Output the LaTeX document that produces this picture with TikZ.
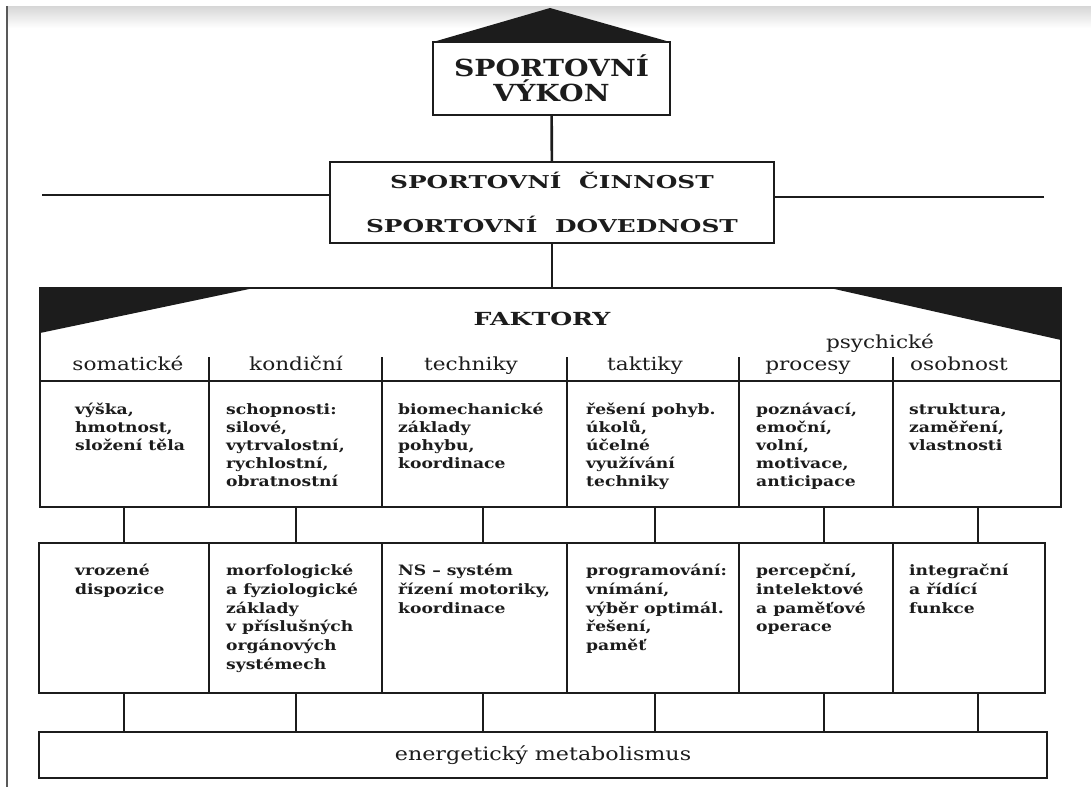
\documentclass[tikz,border=0pt]{standalone}
\usepackage{fontspec}
\setmainfont{DejaVu Serif}[FakeStretch=1.2]
\newfontfamily\capsfont{DejaVu Serif}[FakeStretch=1.4]
\usetikzlibrary{positioning}
\definecolor{ink}{HTML}{1C1C1C}
\tikzstyle{frame}=[draw=ink, line width=2.6pt, rectangle, inner sep=0pt, outer sep=0pt]
\tikzstyle{cell}=[frame, anchor=north west]
\tikzstyle{link}=[draw=ink, line width=2.6pt]
\tikzstyle{bigcaps}=[font=\bfseries\fontsize{23.5}{25}\selectfont, text=ink, align=center]
\tikzstyle{caps}=[font=\capsfont\bfseries\fontsize{17.7}{44}\selectfont, text=ink, inner sep=0pt]
\tikzstyle{head}=[font=\fontsize{18}{22}\selectfont, text=ink, inner sep=0pt, anchor=base]
\tikzstyle{celltext}=[font=\bfseries\fontsize{14.3}{18}\selectfont, text=ink, inner sep=0pt, anchor=north west, align=left]
\tikzstyle{lowtext}=[celltext, font=\bfseries\fontsize{14.3}{18.7}\selectfont]

\begin{document}
\begin{tikzpicture}[x=1pt, y=-1pt]
\useasboundingbox[fill=white] (0,0) rectangle (1091,787);
\shade[top color=black!16, bottom color=white] (7,6) rectangle (1091,28);
\draw[black!65, line width=2pt] (7,6) -- (7,787);

\fill[ink] (433,42) -- (550,8) -- (670,42) -- cycle;
\node[frame, bigcaps, minimum width=237pt, minimum height=73pt] (vykon) at (551.5,78.5) {SPORTOVNÍ\\VÝKON};
\node[frame, caps, align=center, minimum width=444pt, minimum height=81pt] (cinnost) at (552,202.5) {SPORTOVNÍ\quad ČINNOST\\SPORTOVNÍ\quad DOVEDNOST};
\coordinate (lend) at (42,195);
\coordinate (rend) at (1044,197);
\draw[link] (vykon) -- (cinnost);
\draw[link] (lend) -- (lend -| cinnost.west);
\draw[link] (rend) -- (rend -| cinnost.east);

\node[cell, minimum width=1021pt, minimum height=93pt] (fac) at (40,288) {};
\fill[ink] (fac.north west) -- ++(214,0) -- ++(-214,45) -- cycle;
\fill[ink] (fac.north east) -- ++(-231,0) -- ++(231,52) -- cycle;
\draw[link] (cinnost.south) -- (cinnost.south |- fac.north);
\node[caps, anchor=base, font=\capsfont\bfseries\fontsize{18}{20}\selectfont] (faktory) at (542,325) {FAKTORY};

\node[cell, minimum width=169pt, minimum height=126pt] (f1) at (40,381) {};
\node[cell, minimum width=173pt, minimum height=126pt] (f2) at (209,381) {};
\node[cell, minimum width=185pt, minimum height=126pt] (f3) at (382,381) {};
\node[cell, minimum width=172pt, minimum height=126pt] (f4) at (567,381) {};
\node[cell, minimum width=154pt, minimum height=126pt] (f5) at (739,381) {};
\node[cell, minimum width=168pt, minimum height=126pt] (f6) at (893,381) {};
\foreach \c in {f2,f3,f4,f5,f6}
  \draw[link] (\c.north west) -- ++(0,-24);

\node[head] (somaticke) at (128,370) {somatické};
\node[head] (kondicni) at (296,370) {kondiční};
\node[head] (techniky) at (471,370) {techniky};
\node[head] (taktiky) at (645,370) {taktiky};
\node[head] (procesy) at (808,370) {procesy};
\node[head] (osobnost) at (959,370) {osobnost};
\node[head] (psychicke) at (880,348) {psychické};

\node[celltext] (t1) at (75,403) {výška,\\hmotnost,\\složení těla};
\node[celltext] (t2) at (226,403) {schopnosti:\\silové,\\vytrvalostní,\\rychlostní,\\obratnostní};
\node[celltext] (t3) at (398,403) {biomechanické\\základy\\pohybu,\\koordinace};
\node[celltext] (t4) at (586,403) {řešení pohyb.\\úkolů,\\účelné\\využívání\\techniky};
\node[celltext] (t5) at (756,403) {poznávací,\\emoční,\\volní,\\motivace,\\anticipace};
\node[celltext] (t6) at (909,403) {struktura,\\zaměření,\\vlastnosti};

\node[cell, minimum width=170pt, minimum height=150pt] (g1) at (39,543) {};
\node[cell, minimum width=173pt, minimum height=150pt] (g2) at (209,543) {};
\node[cell, minimum width=185pt, minimum height=150pt] (g3) at (382,543) {};
\node[cell, minimum width=172pt, minimum height=150pt] (g4) at (567,543) {};
\node[cell, minimum width=154pt, minimum height=150pt] (g5) at (739,543) {};
\node[cell, minimum width=152pt, minimum height=150pt] (g6) at (893,543) {};

\node[lowtext] (u1) at (75,564) {vrozené\\dispozice};
\node[lowtext] (u2) at (226,564) {morfologické\\a fyziologické\\základy\\v příslušných\\orgánových\\systémech};
\node[lowtext] (u3) at (398,564) {NS – systém\\řízení motoriky,\\koordinace};
\node[lowtext] (u4) at (586,564) {programování:\\vnímání,\\výběr optimál.\\řešení,\\paměť};
\node[lowtext] (u5) at (756,564) {percepční,\\intelektové\\a paměťové\\operace};
\node[lowtext] (u6) at (909,564) {integrační\\a řídící\\funkce};

\node[cell, minimum width=1008pt, minimum height=46pt, font=\fontsize{18.5}{22}\selectfont, text=ink] (energie) at (39,732) {energetický metabolismus};

\coordinate (l1) at (124,0);
\coordinate (l2) at (296,0);
\coordinate (l3) at (483,0);
\coordinate (l4) at (655,0);
\coordinate (l5) at (824,0);
\coordinate (l6) at (978,0);
\foreach \i in {1,...,6} {
  \draw[link] (l\i |- f\i.south) -- (l\i |- g\i.north);
  \draw[link] (l\i |- g\i.south) -- (l\i |- energie.north);
}
\end{tikzpicture}
\end{document}
